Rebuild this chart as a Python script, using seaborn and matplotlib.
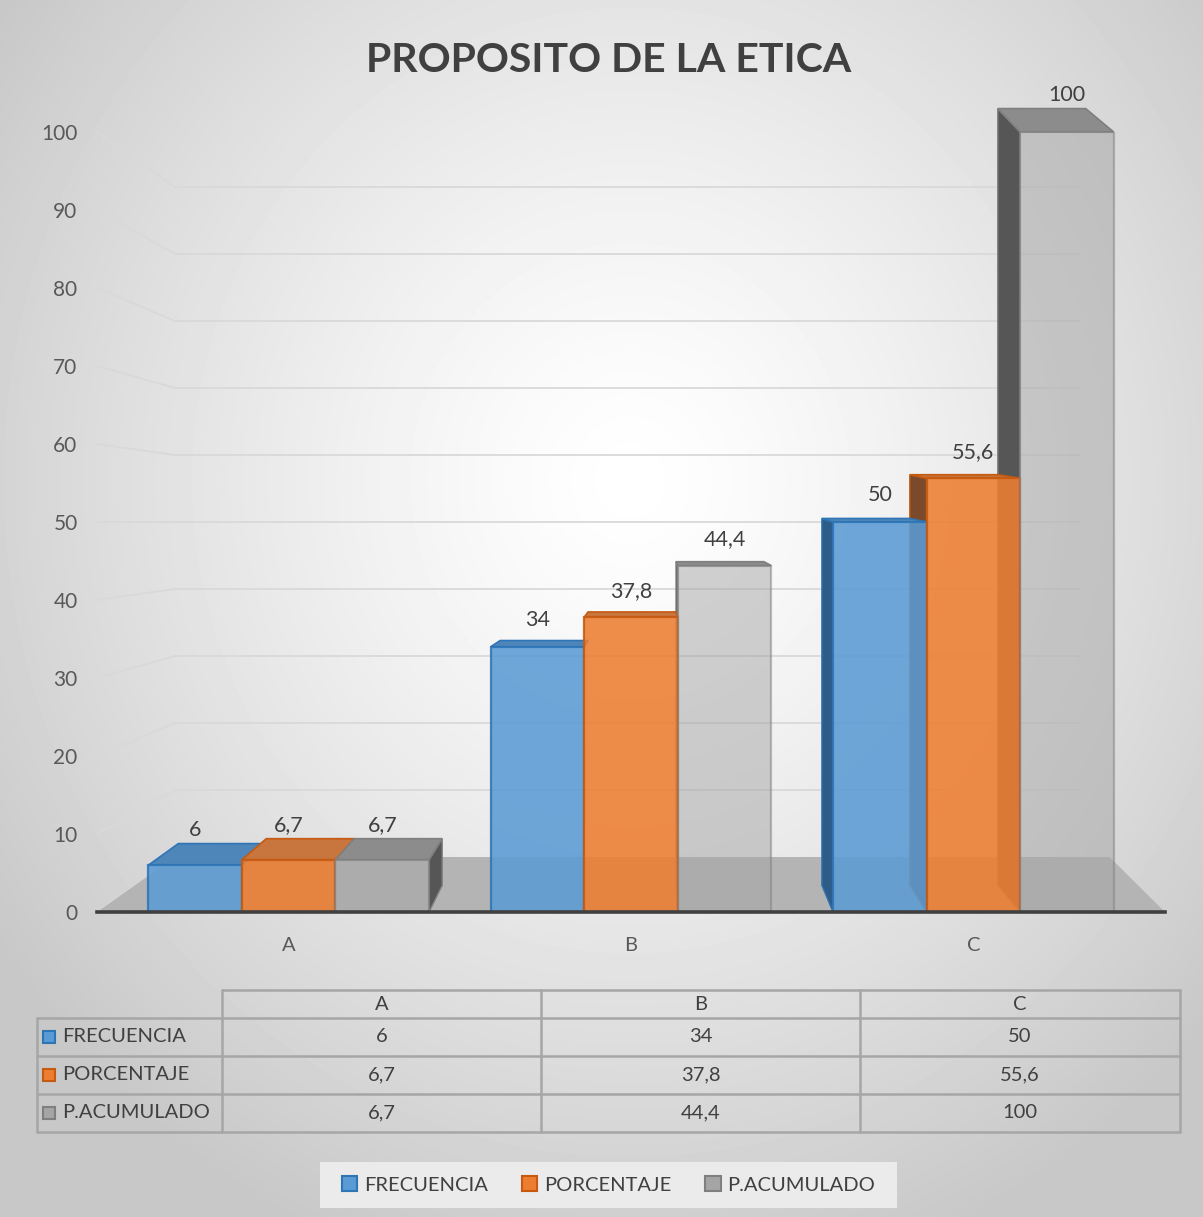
import matplotlib
matplotlib.use("Agg")
import matplotlib.pyplot as plt
import numpy as np
import pandas as pd
import seaborn as sns
from matplotlib.patches import Patch, Polygon, Rectangle

# data
categories = ["A", "B", "C"]
series = ["FRECUENCIA", "PORCENTAJE", "P.ACUMULADO"]
frecuencia = [6, 34, 50]
porcentaje = [6.7, 37.8, 55.6]
p_acumulado = [6.7, 44.4, 100]
y_ticks = list(range(0, 101, 10))
title = "PROPOSITO DE LA ETICA"

face = ["#5B9BD5", "#ED7D31", "#A5A5A5"]
edge = ["#2E75B6", "#C55A11", "#7F7F7F"]
top_col = ["#4F86BA", "#C8753E", "#8C8C8C"]
side_col = ["#2E5C88", "#7A4A2B", "#565656"]
front_alpha = [0.88, 0.88, 0.5]


def fmt(v):
    return f"{v:g}".replace(".", ",")


def depth_y(h):
    return 3.417 - 0.11446 * h + 0.001103 * h * h


df = pd.DataFrame(
    {
        "cat": categories * 3,
        "serie": [s for s in series for _ in categories],
        "val": frecuencia + porcentaje + p_acumulado,
    }
)

sns.set_theme(style="white")
plt.rcParams["font.family"] = ["Lato", "DejaVu Sans"]

W, H = 1203, 1217
fig = plt.figure(figsize=(W / 100, H / 100), dpi=100)

# background: soft radial gradient like the Excel chart area
bg = fig.add_axes([0, 0, 1, 1], zorder=-10)
yy, xx = np.mgrid[0:H, 0:W]
r = np.sqrt(((xx - 630) / 760.0) ** 2 + ((yy - 480) / 820.0) ** 2)
shade = 255 - 55 * np.clip(r, 0, 1) ** 1.3
bg.imshow(shade, cmap="gray", vmin=0, vmax=255, aspect="auto", extent=(0, W, H, 0))
bg.set_xlim(0, W)
bg.set_ylim(H, 0)
bg.axis("off")

# main plot area
ax = fig.add_axes([97 / W, 1 - 912 / H, (1165 - 97) / W, 780 / H])
ax.set_facecolor("none")
sns.barplot(
    data=df, x="cat", y="val", hue="serie", hue_order=series, palette=face,
    width=0.82, saturation=1, legend=False, ax=ax, zorder=3,
)
ax.set_xlim(-0.56, 2.56)
ax.set_ylim(0, 100)

# back wall grid + slanted connectors (fake perspective)
wall_x0, wall_x1 = 0.073, 0.92
for t in y_ticks:
    wy = 7.05 + 0.859 * t
    ax.plot([0.0, wall_x0], [t, wy], transform=ax.get_yaxis_transform(),
            color="#D9D9D9", lw=1.3, zorder=1, clip_on=False)
    if t > 0:
        ax.plot([wall_x0, wall_x1], [wy, wy], transform=ax.get_yaxis_transform(),
                color="#D9D9D9", lw=1.3, zorder=1, clip_on=False)

# floor
floor = Polygon([(0, 0), (1, 0), (0.948, 7.05), (wall_x0, 7.05)], closed=True,
                transform=ax.get_yaxis_transform(), facecolor="#B4B4B4",
                edgecolor="none", zorder=1.5)
ax.add_patch(floor)

# 3d look on every bar
k, xv = 0.06, 1.05
last = len(ax.containers) - 1
for i, cont in enumerate(ax.containers):
    for bar in cont:
        x0 = bar.get_x()
        x1 = x0 + bar.get_width()
        h = bar.get_height()
        x0b = x0 + k * (xv - x0)
        x1b = x1 + k * (xv - x1)
        dy0, dyh = depth_y(0), depth_y(h)
        bar.set_alpha(front_alpha[i])
        bar.set_edgecolor(edge[i])
        bar.set_linewidth(1.6)
        if x0b < x0:
            side = [(x0, 0), (x0, h), (x0b, h + dyh), (x0b, dy0)]
            ax.add_patch(Polygon(side, facecolor=side_col[i], edgecolor=edge[i],
                                 lw=1.0, zorder=2, clip_on=False))
        if x1b > x1 and i == last:
            side = [(x1, 0), (x1, h), (x1b, h + dyh), (x1b, dy0)]
            ax.add_patch(Polygon(side, facecolor=side_col[i], edgecolor=edge[i],
                                 lw=1.0, zorder=2, clip_on=False))
        topf = [(x0, h), (x1, h), (x1b, h + dyh), (x0b, h + dyh)]
        ax.add_patch(Polygon(topf, facecolor=top_col[i], edgecolor=edge[i],
                             lw=1.2, zorder=2.5, clip_on=False))
        ax.text((x0 + x1) / 2, h + max(dyh + 1.8, 3.4), fmt(h), ha="center", va="center",
                fontsize=15.5, color="#404040", zorder=5, clip_on=False)

for sp in ["top", "right", "left"]:
    ax.spines[sp].set_visible(False)
ax.spines["bottom"].set_color("#404040")
ax.spines["bottom"].set_linewidth(2.6)
ax.spines["bottom"].set_zorder(4)
ax.set_yticks(y_ticks)
ax.tick_params(axis="y", length=0, pad=14, labelsize=15, labelcolor="#595959")
ax.tick_params(axis="x", length=0, pad=18, labelsize=14.5, labelcolor="#595959")
ax.set_xlabel("")
ax.set_ylabel("")
ax.grid(False)

fig.text(609 / W, 1 - 60 / H, title, ha="center", va="center", fontsize=29.5,
         fontweight="bold", color="#404040")

# data table under the chart, laid out in pixel coordinates
tb = fig.add_axes([0, 0, 1, 1], zorder=5)
tb.set_xlim(0, W)
tb.set_ylim(H, 0)
tb.axis("off")
tb.patch.set_alpha(0)
col_edges = [37, 222, 541, 860, 1180]
row_edges = [990, 1018, 1056, 1094, 1132]
lc = "#A6A6A6"
tb.plot([col_edges[1], col_edges[-1]], [row_edges[0]] * 2, color=lc, lw=1.8)
for yline in row_edges[1:]:
    tb.plot([col_edges[0], col_edges[-1]], [yline] * 2, color=lc, lw=1.8)
tb.plot([col_edges[0]] * 2, [row_edges[1], row_edges[-1]], color=lc, lw=1.8)
for xline in col_edges[1:]:
    tb.plot([xline] * 2, [row_edges[0], row_edges[-1]], color=lc, lw=1.8)
for j, c in enumerate(categories):
    tb.text((col_edges[j + 1] + col_edges[j + 2]) / 2, (row_edges[0] + row_edges[1]) / 2 + 1,
            c, ha="center", va="center", fontsize=14.5, color="#404040")
for i, (name, vals) in enumerate(zip(series, [frecuencia, porcentaje, p_acumulado])):
    yc = (row_edges[i + 1] + row_edges[i + 2]) / 2
    tb.add_patch(Rectangle((43, yc - 6), 12, 12, facecolor=face[i], edgecolor=edge[i], lw=1.5))
    tb.text(62, yc, name, ha="left", va="center", fontsize=14.5, color="#404040")
    for j, v in enumerate(vals):
        tb.text((col_edges[j + 1] + col_edges[j + 2]) / 2, yc, fmt(v), ha="center",
                va="center", fontsize=14.5, color="#404040")

# legend strip at the bottom
tb.add_patch(Rectangle((320, 1162), 577, 46, facecolor="#EBEBEB", edgecolor="none", zorder=0))
handles = [Patch(facecolor=face[i], edgecolor=edge[i], lw=1.5, label=series[i]) for i in range(3)]
leg = fig.legend(handles=handles, loc="center", bbox_to_anchor=(608.5 / W, 1 - 1185 / H),
                 ncol=3, fontsize=14.5, frameon=False, handlelength=0.75, handleheight=0.75,
                 handletextpad=0.35, columnspacing=1.7)
leg.set_zorder(6)
for t in leg.get_texts():
    t.set_color("#404040")

fig.savefig("out.png", dpi=100)
